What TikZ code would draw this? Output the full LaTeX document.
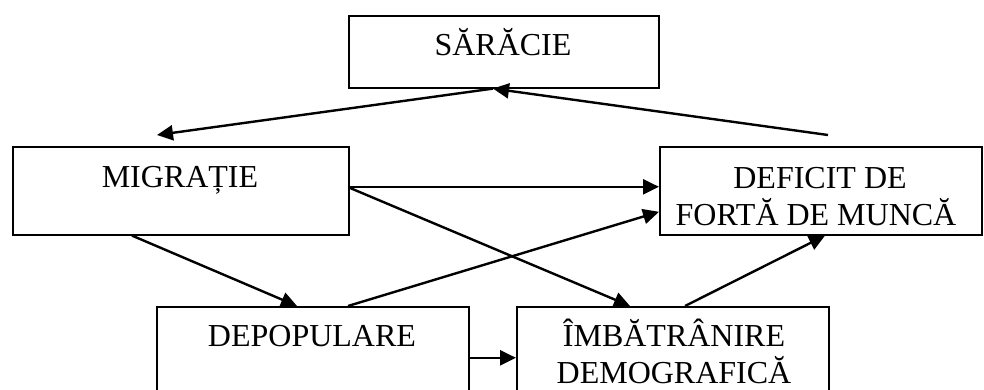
\documentclass[tikz,border=0pt]{standalone}
\usepackage{fontspec}
\setmainfont{Liberation Serif}
\usetikzlibrary{arrows.meta}
\begin{document}
\begin{tikzpicture}[x=1pt,y=-1pt,
  box/.style={draw, line width=1.6pt, inner sep=0pt, anchor=north west},
  lbl/.style={inner sep=0pt, anchor=base, font=\fontsize{32}{37}\selectfont, align=center},
  arr/.style={line width=2.4pt, -{Triangle[length=16pt,width=15pt]}}]
\useasboundingbox (0,0) rectangle (984,390);
\fill[white] (0,0) rectangle (984,390);
% boxes
\node[box, minimum width=310pt, minimum height=72pt] (sar) at (348,15) {};
\node[box, minimum width=336pt, minimum height=88pt] (mig) at (12,146) {};
\node[box, minimum width=322pt, minimum height=88pt] (def) at (659,146) {};
\node[box, minimum width=312pt, minimum height=100pt] (dep) at (156,306) {};
\node[box, minimum width=312pt, minimum height=100pt] (imb) at (516,306) {};
% labels
\node[lbl] (tsar) at (503,56) {SĂRĂCIE};
\node[lbl] (tmig) at (180,187) {MIGRAȚIE};
\node[lbl] (tdef1) at (820,189) {DEFICIT DE};
\node[lbl] (tdef2) at (816,225) {FORTĂ DE MUNCĂ};
\node[lbl] (tdep) at (312,346) {DEPOPULARE};
\node[lbl] (timb1) at (674,346) {ÎMBĂTRÂNIRE};
\node[lbl] (timb2) at (674,383) {DEMOGRAFICĂ};
% free ends
\coordinate (dtop) at ([xshift=169pt,yshift=11pt]def.north west);
\coordinate (mtop) at ([xshift=145pt,yshift=11pt]mig.north west);
% connectors
\draw[arr] (dtop) -- ([xshift=145pt]sar.south west);
\draw[arr] ([xshift=145pt]sar.south west) -- (mtop);
\draw[arr] ([yshift=4pt]mig.east) -- ([yshift=4pt]def.west);
\draw[arr] ([yshift=3pt]mig.east) -- ([xshift=114pt]imb.north west);
\draw[arr] ([xshift=120pt]mig.south west) -- ([xshift=141pt]dep.north west);
\draw[arr] ([xshift=192pt]dep.north west) -- ([yshift=-21pt]def.west);
\draw[arr] ([xshift=169pt]imb.north west) -- ([xshift=166pt]def.south west);
\draw[arr] ([yshift=-1pt]dep.east) -- ([yshift=-1pt]imb.west);
\end{tikzpicture}
\end{document}
